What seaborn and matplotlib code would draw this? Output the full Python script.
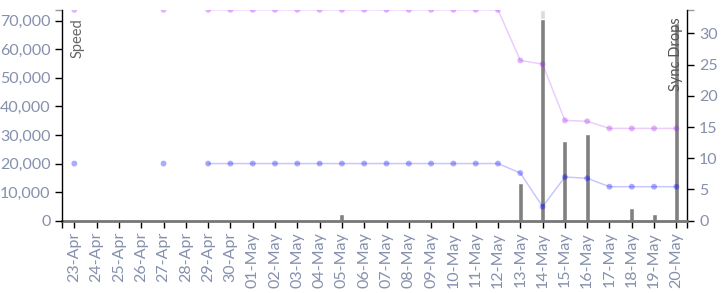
import numpy as np
import pandas as pd
import matplotlib
matplotlib.use("Agg")
import matplotlib.pyplot as plt
import seaborn as sns
from matplotlib.ticker import FuncFormatter

nan = np.nan
dates = ["23-Apr", "24-Apr", "25-Apr", "26-Apr", "27-Apr", "28-Apr", "29-Apr", "30-Apr",
         "01-May", "02-May", "03-May", "04-May", "05-May", "06-May", "07-May", "08-May",
         "09-May", "10-May", "11-May", "12-May", "13-May", "14-May", "15-May", "16-May",
         "17-May", "18-May", "19-May", "20-May"]
speed_blue = [20000, nan, nan, nan, 20000, nan, 20000, 20000,
              20000, 20000, 20000, 20000, 20000, 20000, 20000, 20000,
              20000, 20000, 20000, 20000, 16700, 4900, 15300, 14850,
              11900, 11900, 11900, 11900]
speed_pink = [73800, nan, nan, nan, 73800, nan, 73800, 73800,
              73800, 73800, 73800, 73800, 73800, 73800, 73800, 73800,
              73800, 73800, 73800, 73800, 56100, 54800, 35100, 34800,
              32300, 32300, 32300, 32300]
sync_drops = [0, 0, 0, 0, 0, 0, 0, 0,
              0, 0, 0, 0, 1, 0, 0, 0,
              0, 0, 0, 0, 6, 32.3, 12.8, 13.9,
              0, 2, 1, 31.6]
sync_overflow = [0, 0, 0, 0, 0, 0, 0, 0,
                 0, 0, 0, 0, 0, 0, 0, 0,
                 0, 0, 0, 0, 0, 33.7, 0, 0,
                 0, 0, 0, 0]

sns.set_style("white")
plt.rcParams['font.family'] = ['Lato', 'DejaVu Sans']

W, H = 727, 293
fig = plt.figure(figsize=(W / 100, H / 100), dpi=100)
left, right, top, bottom = 62.3, 687.3, 10.3, 220.7
ax = fig.add_axes([left / W, 1 - bottom / H, (right - left) / W, (bottom - top) / H])

df = pd.DataFrame({"date": dates, "pos": np.arange(len(dates)),
                   "blue": speed_blue, "pink": speed_pink,
                   "drops": sync_drops, "over": sync_overflow})

# bars (right axis: Sync Drops) on the main axes
sns.barplot(data=df, x="date", y="over", order=dates, color="#dcdcdc",
            saturation=1, width=0.22, ax=ax, errorbar=None)
sns.barplot(data=df, x="date", y="drops", order=dates, color="#808080",
            saturation=1, width=0.22, ax=ax, errorbar=None)

ax2 = ax.twinx()

for col, rgb in [("pink", (0.63, 0.13, 0.94)), ("blue", (0.0, 0.0, 1.0))]:
    d = df[["pos", col]].copy()
    # a new line segment starts after every missing value
    d["seg"] = np.cumsum(np.isnan(df[col].values))
    d = d.dropna()
    sns.lineplot(data=d, x="pos", y=col, units="seg", estimator=None,
                 color=rgb, alpha=0.22, linewidth=1.1, ax=ax2, legend=False)
    sns.scatterplot(data=d, x="pos", y=col, color=rgb, alpha=0.33, s=18,
                    edgecolor="none", ax=ax2, legend=False)

ax.set_xlim(-0.54, 27.49)
ax.set_ylim(0, 33.7)
ax2.set_ylim(0, 73640)
ax2.set_xlim(-0.54, 27.49)

# axis placement: bars' axis on the right, speed on the left
ax.yaxis.tick_right()
ax.yaxis.set_label_position("right")
ax2.yaxis.tick_left()
ax2.yaxis.set_label_position("left")

ax.set_yticks([0, 5, 10, 15, 20, 25, 30])
ax.set_yticks([33.7], minor=True)
ax2.set_yticks([0, 10000, 20000, 30000, 40000, 50000, 60000, 70000])
ax2.set_yticks([73640], minor=True)
ax2.yaxis.set_major_formatter(FuncFormatter(lambda v, p: f"{int(v):,}"))
ax.set_xticks(range(len(dates)))
ax.set_xticklabels(dates, rotation=90)
ax.set_xticks([-0.54, 27.49], minor=True)

lab_col = "#8590ad"
ax.tick_params(axis="x", which="both", direction="out", length=5, width=1,
               color="black", labelsize=11.5, labelcolor=lab_col, pad=3, bottom=True)
ax.tick_params(axis="y", which="both", direction="out", length=5, width=1,
               color="black", labelsize=11.5, labelcolor=lab_col, right=True, left=False)
ax2.tick_params(axis="y", which="both", direction="out", length=5, width=1,
                color="black", labelsize=11.5, labelcolor=lab_col, left=True, right=False)
ax.tick_params(axis="y", which="minor", color="#999999")
ax2.tick_params(axis="y", which="minor", color="#999999")
ax.tick_params(axis="x", which="minor", color="black")

ax.set_xlabel("")
ax.set_ylabel("")
ax2.set_xlabel("")
ax2.set_ylabel("")

for a in (ax, ax2):
    for s in ("top", "left", "right", "bottom"):
        a.spines[s].set_visible(False)
    a.grid(False)
ax2.spines["left"].set_visible(True)
ax2.spines["left"].set_color("black")
ax2.spines["left"].set_linewidth(1)
ax.spines["right"].set_visible(True)
ax.spines["right"].set_color("black")
ax.spines["right"].set_linewidth(1)
ax.spines["bottom"].set_visible(True)
ax.spines["bottom"].set_color("#777777")
ax.spines["bottom"].set_linewidth(2)

ax2.text(0.024, 0.96, "Speed", transform=ax2.transAxes, rotation=90,
         ha="center", va="top", fontsize=10.5, color="#666666")
ax2.text(0.9825, 0.965, "Sync Drops", transform=ax2.transAxes, rotation=90,
         ha="center", va="top", fontsize=10.5, color="#555555")

fig.savefig("out.png", dpi=100)
